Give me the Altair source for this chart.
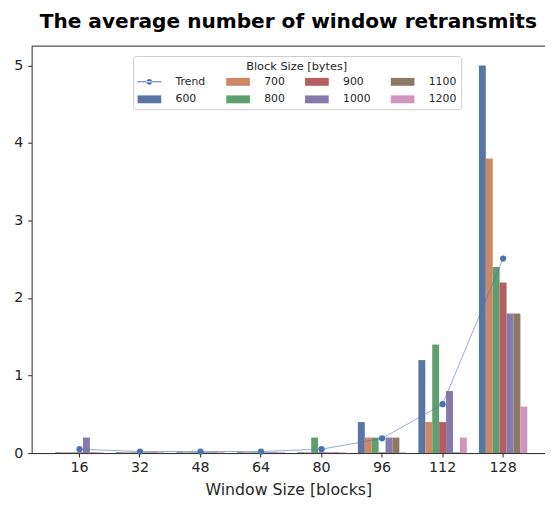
import altair as alt
import pandas as pd

windows = ["16", "32", "48", "64", "80", "96", "112", "128"]
blocks = ["600", "700", "800", "900", "1000", "1100", "1200"]

v600 = [0.01, 0.01, 0.01, 0.01, 0.01, 0.40, 1.20, 5.00]
v700 = [0.01, 0.01, 0.01, 0.01, 0.01, 0.20, 0.40, 3.80]
v800 = [0.01, 0.01, 0.01, 0.01, 0.20, 0.20, 1.40, 2.40]
v900 = [0.01, 0.01, 0.01, 0.01, 0.01, 0.01, 0.40, 2.20]
v1000 = [0.20, 0.01, 0.01, 0.01, 0.01, 0.20, 0.80, 1.80]
v1100 = [0.01, 0.01, 0.01, 0.01, 0.01, 0.20, 0.01, 1.80]
v1200 = [0.01, 0.01, 0.01, 0.01, 0.01, 0.01, 0.20, 0.60]
trend = [0.05, 0.02, 0.02, 0.02, 0.05, 0.19, 0.63, 2.51]

y_ticks = [0, 1, 2, 3, 4, 5]

colors = {
    "Trend": "#4C72B0",
    "600": "#5875A4",
    "700": "#CC8963",
    "800": "#5F9E6E",
    "900": "#B55D60",
    "1000": "#857AAB",
    "1100": "#8D7866",
    "1200": "#D095BF",
}

series = [v600, v700, v800, v900, v1000, v1100, v1200]
rows = []
for b, vals in zip(blocks, series):
    for w, v in zip(windows, vals):
        rows.append({"Window": w, "Block": b, "Value": v})
bars_df = pd.DataFrame(rows)
trend_df = pd.DataFrame({"Window": windows, "Block": ["Trend"] * len(windows), "Value": trend})

legend_order = ["Trend"] + blocks
color_scale = alt.Scale(domain=legend_order, range=[colors[k] for k in legend_order])

TXT = "#262626"
FONT = "DejaVu Sans"

rect_path = "M-2.4,-0.8H2.4V0.8H-2.4Z"
trend_path = "M-2.4,-0.1H2.4V0.1H-2.4Z M-0.6,0A0.6,0.6 0 1,0 0.6,0A0.6,0.6 0 1,0 -0.6,0Z"
shape_scale = alt.Scale(
    domain=legend_order,
    range=[trend_path if k == "Trend" else rect_path for k in legend_order],
)

legend = alt.Legend(
    title="Block Size [bytes]",
    orient="none",
    direction="vertical",
    legendX=103,
    legendY=10,
    columns=4,
    columnPadding=20,
    rowPadding=6,
    symbolSize=100,
    symbolOffset=6,
    symbolOpacity=1,
    symbolStrokeWidth=0,
    labelOffset=21,
    padding=5,
    fillColor="white",
    strokeColor="#cccccc",
    cornerRadius=3,
    titleAnchor="middle",
    titleFontSize=11.5,
    titleFontWeight="normal",
    titleFont=FONT,
    titleColor=TXT,
    titlePadding=4,
    labelFontSize=11,
    labelFont=FONT,
    labelColor=TXT,
)

color_enc = alt.Color("Block:N", scale=color_scale, legend=legend)
shape_enc = alt.Shape("Block:N", scale=shape_scale, legend=legend)

x_scale = alt.Scale(domain=windows, paddingInner=0.2, paddingOuter=0.3414, align=0.572)
x_enc = alt.X(
    "Window:N",
    sort=windows,
    scale=x_scale,
    axis=alt.Axis(title="Window Size [blocks]", labelAngle=0, titlePadding=8),
)
y_enc = alt.Y(
    "Value:Q",
    scale=alt.Scale(domain=[0, 5.25], nice=False, zero=True),
    axis=alt.Axis(values=y_ticks, title=None, grid=False, labelPadding=5),
)

bars = alt.Chart(bars_df).mark_bar().encode(
    x=x_enc,
    xOffset=alt.XOffset("Block:N", sort=blocks, scale=alt.Scale(domain=blocks, paddingInner=0, paddingOuter=0)),
    y=y_enc,
    color=color_enc,
)

line = alt.Chart(trend_df).mark_line(strokeWidth=1, opacity=0.6).encode(
    x=x_enc, y=y_enc, color=color_enc
)

points = alt.Chart(trend_df).mark_point(filled=True, size=40, opacity=1).encode(
    x=x_enc, y=y_enc, color=color_enc
)

legend_carrier = alt.Chart(trend_df).mark_point(filled=True, size=100, opacity=0).encode(
    x=x_enc, y=y_enc, color=color_enc, shape=shape_enc
)

top_rule = alt.Chart(pd.DataFrame({"a": [0]})).mark_rule(color=TXT, strokeWidth=1).encode(
    y=alt.value(0)
)

chart = (
    alt.layer(bars, line, points, legend_carrier, top_rule)
    .properties(
        width=521,
        height=413,
        autosize=alt.AutoSizeParams(type="none"),
        padding={"left": 24, "top": 35, "right": 0, "bottom": 49},
        title=alt.TitleParams(
            "The average number of window retransmits",
            font=FONT,
            fontSize=20.4,
            fontWeight="bold",
            color="black",
            anchor="middle",
            offset=14,
        ),
    )
    .configure_view(stroke=None)
    .configure_axis(
        domainColor=TXT,
        tickColor=TXT,
        labelColor=TXT,
        titleColor=TXT,
        labelFont=FONT,
        titleFont=FONT,
        labelFontSize=14.5,
        titleFontSize=16,
        titleFontWeight="normal",
        tickSize=4,
        labelPadding=4,
        domainWidth=1,
        tickWidth=1,
        grid=False,
    )
)

chart.save("out.html", embed_options={"renderer": "svg", "actions": False})
